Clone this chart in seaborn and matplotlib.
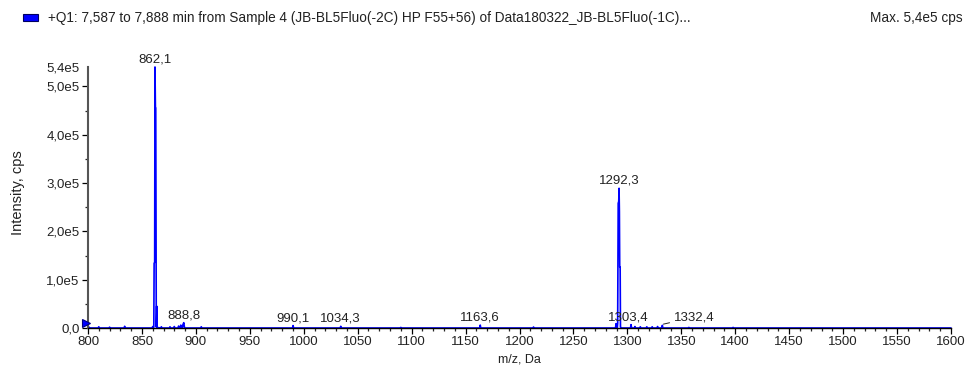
import matplotlib
matplotlib.use("Agg")
import matplotlib.pyplot as plt
from matplotlib.ticker import MultipleLocator, FixedLocator
from matplotlib.patches import Rectangle
from matplotlib.transforms import offset_copy
import seaborn as sns
import pandas as pd

# ---- data (profile spectrum, m/z in Da, intensity in cps) ----
mz = [800.0, 800.6, 801.2, 801.8, 809.5, 810.0, 810.5, 819.5, 820.0, 820.5,
      833.5, 834.0, 834.5, 859.5, 860.0, 860.5, 861.0, 861.3, 861.8, 862.1,
      862.5, 862.8, 863.3, 863.7, 864.1, 867.5, 868.0, 868.5, 875.5, 876.0,
      876.5, 879.5, 880.0, 880.5, 883.5, 884.0, 884.5, 885.5, 886.0, 886.5,
      887.5, 888.0, 888.8, 889.5, 904.5, 905.0, 905.5, 989.6, 990.1, 990.6,
      1033.8, 1034.3, 1034.8, 1089.5, 1090.0, 1090.5, 1163.1, 1163.6, 1164.1,
      1212.5, 1213.0, 1213.5, 1289.0, 1289.5, 1290.0, 1290.6, 1291.0, 1291.5,
      1292.0, 1292.3, 1292.6, 1292.9, 1293.3, 1293.6, 1294.5, 1302.9, 1303.4,
      1303.9, 1306.5, 1307.0, 1307.5, 1311.5, 1312.0, 1312.5, 1317.5, 1318.0,
      1318.5, 1322.5, 1323.0, 1323.5, 1327.5, 1328.0, 1328.5, 1331.9, 1332.4,
      1332.9, 1356.5, 1357.0, 1357.5, 1397.5, 1398.0, 1398.5, 1600.0]
intensity = [4000, 2000, 1000, 0, 0, 2500, 0, 0, 1800, 0,
             0, 3500, 0, 0, 3000, 0, 2000, 134000, 136000, 540000,
             455000, 455000, 2000, 45000, 1000, 0, 2500, 0, 0, 2500,
             0, 0, 3000, 0, 0, 4000, 0, 0, 6000, 0,
             0, 7000, 11000, 0, 0, 2500, 0, 0, 5000, 0,
             0, 3500, 0, 0, 1200, 0, 0, 6000, 0,
             0, 2000, 0, 0, 9000, 0, 0, 10000, 258000,
             262000, 289000, 240000, 126000, 126000, 2000, 0, 0, 7000,
             0, 0, 3000, 0, 0, 2500, 0, 0, 2500,
             0, 0, 2500, 0, 0, 3000, 0, 0, 5500,
             0, 0, 1200, 0, 0, 1200, 0, 0]

peak_labels = ["862,1", "888,8", "990,1", "1034,3", "1163,6", "1292,3", "1303,4", "1332,4"]
peak_mz = [862.1, 888.8, 990.1, 1034.3, 1163.6, 1292.3, 1303.4, 1332.4]
peak_int = [540000, 11000, 5000, 3500, 6000, 289000, 7000, 5500]

x_ticks = [800, 850, 900, 950, 1000, 1050, 1100, 1150, 1200, 1250, 1300, 1350,
           1400, 1450, 1500, 1550, 1600]
y_ticks = [0, 100000, 200000, 300000, 400000, 500000, 540000]
y_tick_labels = ["0,0", "1,0e5", "2,0e5", "3,0e5", "4,0e5", "5,0e5", "5,4e5"]

title_text = "+Q1: 7,587 to 7,888 min from Sample 4 (JB-BL5Fluo(-2C) HP F55+56) of Data180322_JB-BL5Fluo(-1C)..."
max_text = "Max. 5,4e5 cps"

# ---- plotting ----
sns.set_theme(style="white")
plt.rcParams["font.family"] = ["Liberation Sans", "DejaVu Sans"]

df = pd.DataFrame({"mz": mz, "intensity": intensity})

fig = plt.figure(figsize=(9.68, 3.65), dpi=100)
ax = fig.add_axes([88 / 968, 1 - 328 / 365, (951 - 88) / 968, (328 - 67) / 365])

sns.lineplot(data=df, x="mz", y="intensity", ax=ax, color="#0000FF",
             linewidth=1.2, estimator=None, sort=True, clip_on=False)

# start-of-range pointer marker at the left axis
tr = offset_copy(ax.transData, fig=fig, x=-2, y=5, units="dots")
ax.plot([mz[0]], [0], marker=">", markersize=6, color="#0000FF",
        markeredgecolor="#000080", markeredgewidth=0.8, transform=tr,
        clip_on=False, zorder=5)

ax.set_xlim(800, 1600)
ax.set_ylim(0, 540000)

for lab, px, py in zip(peak_labels, peak_mz, peak_int):
    if lab == "1332,4":
        ax.annotate(lab, xy=(px + 1, py + 2500), xytext=(px + 11, py + 17000),
                    ha="left", va="center", fontsize=9.5, color="#222222",
                    arrowprops=dict(arrowstyle="-", color="#222222", lw=0.7,
                                    shrinkA=1, shrinkB=0))
    elif lab == "1303,4":
        ax.annotate(lab, xy=(px - 3, py), xytext=(0, 1), textcoords="offset points",
                    ha="center", va="bottom", fontsize=9.5, color="#222222")
    else:
        ax.annotate(lab, xy=(px, py), xytext=(0, 1), textcoords="offset points",
                    ha="center", va="bottom", fontsize=9.5, color="#222222")

ax.xaxis.set_major_locator(FixedLocator(x_ticks))
ax.xaxis.set_minor_locator(MultipleLocator(10))
ax.yaxis.set_major_locator(FixedLocator(y_ticks))
ax.yaxis.set_minor_locator(FixedLocator([50000, 150000, 250000, 350000, 450000]))
ax.set_yticklabels(y_tick_labels)
ax.set_xticklabels([str(t) for t in x_ticks])

ax.tick_params(axis="both", which="major", direction="out", length=4, width=0.9,
               labelsize=9.5, colors="#000000", labelcolor="#222222", pad=2,
               bottom=True, left=True)
ax.tick_params(axis="both", which="minor", direction="out", length=2.5, width=0.9,
               bottom=True, left=True)
ax.yaxis.get_major_ticks()[-1].tick1line.set_visible(False)

for s in ["top", "right"]:
    ax.spines[s].set_visible(False)
ax.spines["bottom"].set_color("black")
ax.spines["bottom"].set_linewidth(1.0)
ax.spines["left"].set_color("#555555")
ax.spines["left"].set_linewidth(1.5)

ax.set_xlabel("m/z, Da", fontsize=9, color="#222222", labelpad=4)
ax.set_ylabel("Intensity, cps", fontsize=10.5, color="#222222")
ax.yaxis.set_label_coords(-63 / 863, 0.52)
ax.grid(False)

fig.patches.append(Rectangle((23 / 968, 1 - 21 / 365), 15 / 968, 7 / 365,
                             transform=fig.transFigure, facecolor="#0000FF",
                             edgecolor="#000060", linewidth=0.8))
fig.text(48 / 968, 1 - 18 / 365, title_text, fontsize=9.8, color="#222222",
         ha="left", va="center")
fig.text(963 / 968, 1 - 18 / 365, max_text, fontsize=9.8, color="#222222",
         ha="right", va="center")

fig.savefig("out.png", dpi=100)
